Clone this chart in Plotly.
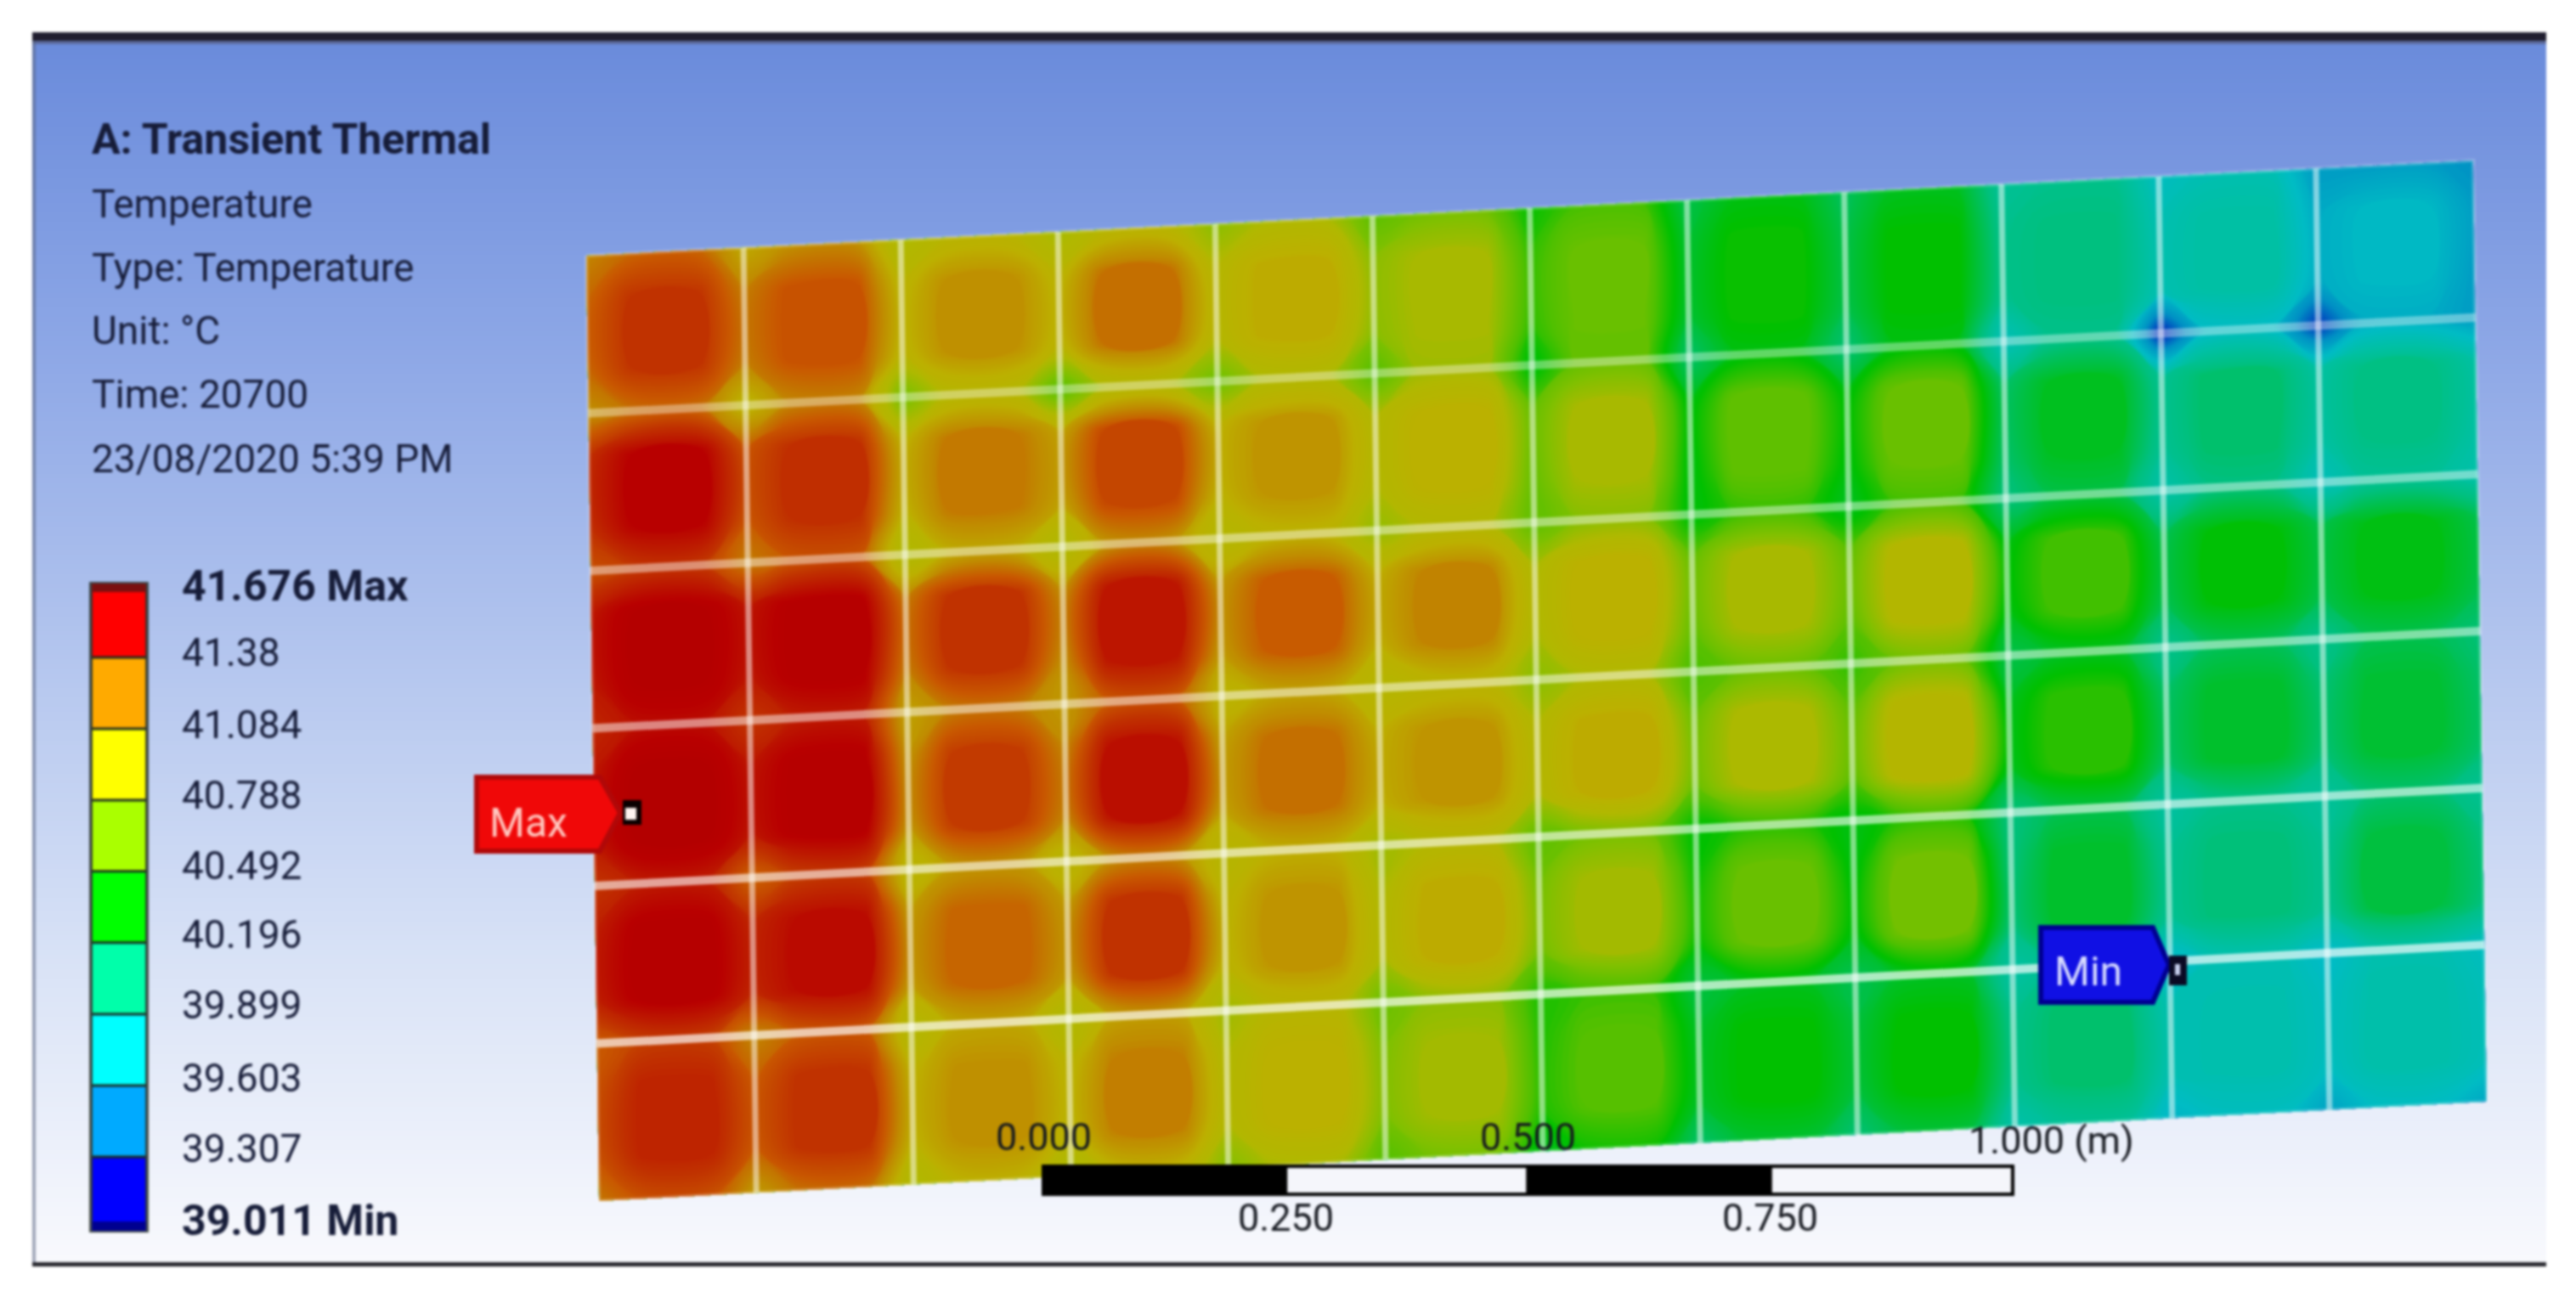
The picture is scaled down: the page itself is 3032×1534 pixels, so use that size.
import numpy as np
import plotly.graph_objects as go

W, H_PX = 3032, 1534
PX_PER_M = 1141.0
ORIGIN_PX = (1228.0, 1390.0)   # pixel position of the scale bar's 0 m

# ---------- data ----------
title_lines = ["Temperature", "Type: Temperature", "Unit: °C", "Time: 20700", "23/08/2020 5:39 PM"]
title_bold = "A: Transient Thermal"
legend_labels = ["41.676 Max", "41.38", "41.084", "40.788", "40.492", "40.196", "39.899", "39.603", "39.307", "39.011 Min"]
legend_levels = [41.676, 41.38, 41.084, 40.788, 40.492, 40.196, 39.899, 39.603, 39.307, 39.011]
legend_colors = ["#ff0000", "#ffaa00", "#ffff00", "#aaff00", "#00ff00", "#00ffaa", "#00ffff", "#00aaff", "#0000ff"]
scale_ticks = [0.0, 0.25, 0.5, 0.75, 1.0]
scale_labels = ["0.000", "0.250", "0.500", "0.750", "1.000 (m)"]

# cell-centre temperatures (6 rows x 12 columns)
centre_temps = [
    [41.33, 41.22, 41.02, 41.12, 40.92, 40.72, 40.52, 40.32, 40.30, 40.00, 39.85, 39.68],
    [41.55, 41.35, 41.10, 41.26, 41.00, 40.88, 40.72, 40.50, 40.52, 40.22, 40.05, 39.98],
    [41.60, 41.58, 41.34, 41.46, 41.18, 41.06, 40.88, 40.72, 40.78, 40.42, 40.28, 40.25],
    [41.62, 41.58, 41.30, 41.48, 41.12, 41.00, 40.92, 40.74, 40.80, 40.38, 40.20, 40.18],
    [41.58, 41.50, 41.16, 41.34, 41.00, 40.92, 40.70, 40.52, 40.55, 40.20, 40.02, 40.15],
    [41.40, 41.34, 41.02, 41.08, 40.88, 40.70, 40.46, 40.30, 40.30, 40.05, 39.80, 39.82],
]
# temperatures on the vertical gaps (6 rows x 13 gaps)
vgap_temps = [
    [41.15, 41.08, 40.85, 40.85, 40.78, 40.62, 40.38, 40.18, 40.12, 39.95, 39.78, 39.62, 39.55],
    [41.35, 41.20, 40.88, 40.95, 40.88, 40.75, 40.50, 40.25, 40.26, 40.05, 39.92, 39.85, 39.85],
    [41.45, 41.45, 41.08, 41.02, 40.98, 40.90, 40.72, 40.50, 40.48, 40.25, 40.10, 40.12, 40.12],
    [41.45, 41.45, 41.00, 41.05, 40.95, 40.90, 40.75, 40.52, 40.48, 40.22, 40.05, 40.02, 40.05],
    [41.42, 41.38, 40.98, 40.98, 40.85, 40.72, 40.55, 40.30, 40.25, 40.00, 39.92, 39.92, 40.00],
    [41.22, 41.18, 40.88, 40.85, 40.75, 40.58, 40.35, 40.20, 40.15, 39.95, 39.78, 39.72, 39.75],
]
# temperatures on the horizontal gaps (7 gaps x 12 columns)
hgap_temps = [
    [41.15, 41.02, 40.82, 40.80, 40.72, 40.55, 40.42, 40.25, 40.22, 39.95, 39.78, 39.55],
    [41.12, 41.05, 40.78, 40.72, 40.72, 40.68, 40.50, 40.25, 40.25, 39.95, 39.68, 39.62],
    [41.30, 41.20, 40.90, 41.00, 40.85, 40.75, 40.60, 40.38, 40.40, 40.12, 39.98, 39.90],
    [41.48, 41.42, 41.08, 41.18, 40.92, 40.82, 40.72, 40.50, 40.52, 40.20, 40.08, 40.10],
    [41.42, 41.28, 40.98, 41.02, 40.88, 40.76, 40.55, 40.35, 40.35, 40.10, 39.95, 40.02],
    [41.28, 41.18, 40.92, 40.95, 40.80, 40.62, 40.40, 40.22, 40.20, 39.95, 39.78, 39.80],
    [41.22, 41.12, 40.88, 40.85, 40.72, 40.55, 40.32, 40.18, 40.15, 39.90, 39.72, 39.70],
]
# temperatures where the gaps cross (7 x 13)
node_temps = [
    [41.05, 40.92, 40.72, 40.70, 40.62, 40.48, 40.30, 40.12, 40.08, 39.90, 39.72, 39.55, 39.50],
    [41.02, 40.85, 40.55, 40.45, 40.52, 40.45, 40.25, 40.05, 40.02, 39.75, 39.25, 39.30, 39.55],
    [41.22, 41.08, 40.72, 40.72, 40.78, 40.65, 40.48, 40.26, 40.22, 40.00, 39.82, 39.75, 39.82],
    [41.38, 41.32, 40.95, 40.98, 40.86, 40.80, 40.62, 40.42, 40.38, 40.12, 39.95, 39.95, 40.02],
    [41.32, 41.15, 40.82, 40.82, 40.80, 40.68, 40.48, 40.28, 40.25, 40.00, 39.86, 39.88, 39.92],
    [41.18, 41.05, 40.76, 40.72, 40.68, 40.52, 40.34, 40.14, 40.10, 39.85, 39.66, 39.68, 39.72],
    [41.10, 40.98, 40.72, 40.68, 40.60, 40.45, 40.22, 40.05, 40.02, 39.82, 39.65, 39.58, 39.60],
]
panel_temps = [39.011, 39.2, 39.5, 39.7, 39.85, 40.0, 40.15, 40.3, 40.45, 40.6, 40.75, 40.9, 41.05, 41.2, 41.35, 41.55, 41.676]
panel_rgb = ["#0000a8", "#0000b8", "#0090c4", "#00bcc4", "#00c0a4", "#00c080", "#00c040", "#00c000", "#50c000",
             "#80c000", "#b0b800", "#bcb000", "#c08a00", "#c85800", "#c03000", "#b80000", "#b00000"]

# ---------- helpers ----------
def mx(px):
    return (np.asarray(px, float) - ORIGIN_PX[0]) / PX_PER_M

def my(py):
    return (ORIGIN_PX[1] - np.asarray(py, float)) / PX_PER_M

def pp(px, py):
    return px / W, 1 - py / H_PX

FONT = "Roboto, sans-serif"
TEXT = "#161c38"

# ---------- assemble the temperature field ----------
C, V, Hz, N = map(np.array, (centre_temps, vgap_temps, hgap_temps, node_temps))
rows, cols = C.shape
Z = np.zeros((3 * rows + 1, 3 * cols + 1))
Z[0::3, 0::3] = N
Z[0::3, 1::3] = Hz
Z[0::3, 2::3] = Hz
Z[1::3, 0::3] = V
Z[2::3, 0::3] = V
for r in (1, 2):
    for c in (1, 2):
        Z[r::3, c::3] = C

PLATEAU = (0, .28, .72)
a_vals = np.array([j + f for j in range(cols) for f in PLATEAU] + [cols], float)
b_vals = np.array([i + f for i in range(rows) for f in PLATEAU] + [rows], float)
TL, TR, BL, BR = (690, 301), (2911, 189), (705, 1414), (2927, 1297)
u, v = np.meshgrid(a_vals / cols, b_vals / rows)
XP = (1-u)*(1-v)*TL[0] + u*(1-v)*TR[0] + (1-u)*v*BL[0] + u*v*BR[0]
YP = (1-u)*(1-v)*TL[1] + u*(1-v)*TR[1] + (1-u)*v*BL[1] + u*v*BR[1]
XM, YM = mx(XP), my(YP)

fig = go.Figure()

# background gradient
bg_levels = np.linspace(0, 1, 257)
fig.add_trace(go.Heatmap(
    x=mx([38, 2997]), y=my(np.linspace(48, 1488, 258)), z=bg_levels.reshape(-1, 1),
    colorscale=[[0, "#6a8bdb"], [0.25, "#8da7e6"], [0.5, "#b3c5ee"], [0.75, "#d8e2f6"], [1, "#f8f9fd"]],
    showscale=False, hoverinfo="skip"))

# temperature panel (mesh only carries the field; its gaps are drawn as lines below)
plain = dict(smoothing=0, showgrid=False, minorgridcount=0, showticklabels="none", showline=False,
             startline=False, endline=False)
fig.add_trace(go.Carpet(carpet="panel", a=a_vals, b=b_vals, x=XM, y=YM, aaxis=plain, baxis=plain))
t0, t1 = panel_temps[0], panel_temps[-1]
fig.add_trace(go.Contourcarpet(
    carpet="panel", a=a_vals, b=b_vals, z=Z,
    autocontour=False, contours=dict(start=39.0, end=41.7, size=0.015, coloring="fill", showlines=False),
    line=dict(width=0), zmin=t0, zmax=t1, showscale=False,
    colorscale=[[(t - t0) / (t1 - t0), c] for t, c in zip(panel_temps, panel_rgb)]))

# gaps between the cells
def gap(xs, ys, alpha, width):
    fig.add_trace(go.Scatter(x=xs, y=ys, mode="lines", hoverinfo="skip", showlegend=False,
                             line=dict(color=f"rgba(255,255,255,{alpha})", width=width)))

for i, alpha in zip(range(1, rows), (0.38, 0.45, 0.5, 0.6, 0.68)):
    gap(XM[3 * i, :], YM[3 * i, :], alpha, 10)
for j in range(1, cols):
    gap(XM[:, 3 * j], YM[:, 3 * j], 0.5, 7)
# pale rim round the panel
gap(np.r_[XM[0, :], XM[:, -1], XM[-1, ::-1], XM[::-1, 0]],
    np.r_[YM[0, :], YM[:, -1], YM[-1, ::-1], YM[::-1, 0]], 0.25, 4)

# legend bar
LEG_L, LEG_R = 108, 172
LEG_TOP, LEG_BOT = 690, 1446
lev = np.array(legend_levels)
leg_py = LEG_BOT - (lev - lev[-1]) / (lev[0] - lev[-1]) * (LEG_BOT - LEG_TOP)
n = len(legend_colors)
step = []
for i, col in enumerate(legend_colors):
    step += [[i / n, col], [(i + 1) / n, col]]
fig.add_trace(go.Heatmap(x=mx([LEG_L, LEG_R]), y=my(leg_py), z=np.arange(n).reshape(-1, 1) + 0.5,
                         zmin=0, zmax=n, colorscale=step, showscale=False, hoverinfo="skip"))
sep_x, sep_y = [], []
for p in leg_py:
    sep_x += [float(mx(LEG_L)), float(mx(LEG_R)), None]
    sep_y += [float(my(p)), float(my(p)), None]
fig.add_trace(go.Scatter(x=sep_x, y=sep_y, mode="lines", line=dict(color="#1a2a20", width=3),
                         hoverinfo="skip", showlegend=False))

shapes = []
def rect(x0, y0, x1, y1, fill, line=None, lw=0):
    a, b = pp(x0, y0); c, d = pp(x1, y1)
    shapes.append(dict(type="rect", xref="paper", yref="paper", x0=a, y0=b, x1=c, y1=d,
                       fillcolor=fill, line=dict(color=line or fill, width=lw)))
def poly(pts, fill, line, lw):
    path = "M" + " L".join("%.5f,%.5f" % pp(*p) for p in pts) + " Z"
    shapes.append(dict(type="path", xref="paper", yref="paper", path=path, fillcolor=fill,
                       line=dict(color=line, width=lw)))

# frame
rect(38, 38, 2997, 48, "#1f1d2e")
rect(38, 48, 2997, 52, "#5c6a9c")
rect(38, 1486, 2997, 1491, "#26262c")
rect(38, 48, 42, 1486, "rgba(90,100,130,0.55)")

# legend outline
rect(LEG_L - 1, 687, LEG_R + 1, 1449, "rgba(0,0,0,0)", "rgba(30,40,30,0.8)", 4)
rect(LEG_L, 687, LEG_R, 697, "#7a1010")
rect(LEG_L, 1438, LEG_R, 1449, "#000090")

# scale bar
BAR_T, BAR_B = 1373, 1406
for i, (t0_, t1_) in enumerate(zip(scale_ticks[:-1], scale_ticks[1:])):
    shapes.append(dict(type="rect", xref="x", yref="y", x0=t0_, x1=t1_, y0=float(my(BAR_T)), y1=float(my(BAR_B)),
                       fillcolor="#000000" if i % 2 == 0 else "#f5f6fb",
                       line=dict(color="#000000", width=4)))

# max / min tags
poly([(561, 915), (706, 915), (730, 957), (706, 1002), (561, 1002)], "#f00808", "#b00808", 6)
rect(733, 942, 755, 971, "#0a0000")
rect(736, 951, 749, 965, "#fff4f0")
poly([(2402, 1092), (2534, 1092), (2553, 1136), (2534, 1180), (2402, 1180)], "#1010e4", "#000090", 6)
rect(2553, 1125, 2574, 1160, "#0a0a24")
rect(2560, 1135, 2566, 1148, "#c8d0f0")

# text
ann = []
def label(px, py, text, size=46, color=TEXT, bold=False, anchor="left"):
    x, y = pp(px, py)
    ann.append(dict(xref="paper", yref="paper", x=x, y=y, text=f"<b>{text}</b>" if bold else text,
                    showarrow=False, xanchor=anchor, yanchor="middle",
                    font=dict(family=FONT, size=size, color=color)))

label(106, 164, title_bold, 50, bold=True)
for t, py in zip(title_lines, (240, 315, 389, 464, 540)):
    label(106, py, t, 46)
for i, (t, py) in enumerate(zip(legend_labels, (690, 768, 853, 936, 1019, 1100, 1183, 1269, 1352, 1437))):
    bold = i in (0, len(legend_labels) - 1)
    label(212, py, t, 50 if bold else 46, bold=bold)
label(574, 968, "Max", 48, "#ffc8c0")
label(2416, 1143, "Min", 48, "#d8dcff")

# scale labels placed on the scale axis
for tick, text, py in zip(scale_ticks, scale_labels, (1338, 1433, 1338, 1433, 1342)):
    ann.append(dict(xref="x", yref="y", x=tick if tick < 1 else tick - 0.047, y=float(my(py)), text=text, showarrow=False,
                    xanchor="center" if tick < 1 else "left", yanchor="middle",
                    font=dict(family=FONT, size=45, color="#15181f")))

fig.update_layout(
    width=W, height=H_PX, autosize=False, margin=dict(l=0, r=0, t=0, b=0),
    paper_bgcolor="#ffffff", plot_bgcolor="#ffffff", showlegend=False,
    xaxis=dict(range=[float(mx(0)), float(mx(W))], visible=False, fixedrange=True),
    yaxis=dict(range=[float(my(H_PX)), float(my(0))], visible=False, fixedrange=True),
    shapes=shapes, annotations=ann)

fig.write_html("out.html", config={"displayModeBar": False},
               post_script="document.body.style.margin='0';document.documentElement.style.overflow='hidden';"
                           "document.querySelector('.plot-container').style.filter='blur(1.6px)';")
